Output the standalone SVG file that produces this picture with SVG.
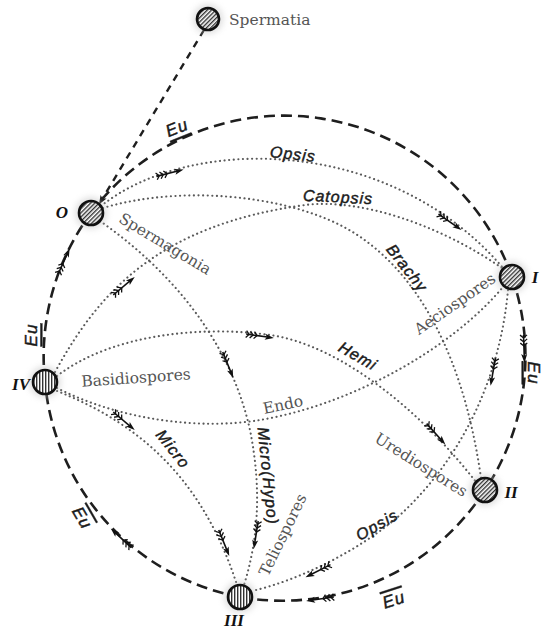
<svg xmlns="http://www.w3.org/2000/svg" xmlns:xlink="http://www.w3.org/1999/xlink" width="545" height="631" viewBox="0 0 545 631">
<defs>
<style>
.dash{fill:none;stroke:#1e1e1e;stroke-width:2.6;stroke-dasharray:11 6}
.sdash{fill:none;stroke:#1e1e1e;stroke-width:2.4;stroke-dasharray:7 6}
.dot{fill:none;stroke:#5a5a5a;stroke-width:2.1;stroke-dasharray:0.1 4.5;stroke-linecap:round}
.nd{stroke:#111;stroke-width:2.6}
.halo{fill:#bbb;opacity:0.45}
.ser{font-family:"DejaVu Serif",serif;font-size:15.5px;fill:#555}
.it{font-family:"Liberation Sans",sans-serif;font-style:italic;font-size:16px;fill:#1a1a1a;stroke:#1a1a1a;stroke-width:0.45;letter-spacing:1px}
.eu{font-size:17px}
.num{font-family:"Liberation Serif",serif;font-style:italic;font-weight:bold;font-size:17px;fill:#111}
</style>
<pattern id="hd" patternUnits="userSpaceOnUse" width="3" height="3" patternTransform="rotate(45)"><rect width="3" height="3" fill="#fff"/><line x1="0.7" y1="0" x2="0.7" y2="3" stroke="#333" stroke-width="1.4"/></pattern>
<pattern id="hv" patternUnits="userSpaceOnUse" width="3" height="3"><rect width="3" height="3" fill="#fff"/><line x1="0.7" y1="0" x2="0.7" y2="3" stroke="#333" stroke-width="1.4"/></pattern>
<filter id="blur" x="-50%" y="-50%" width="200%" height="200%"><feGaussianBlur stdDeviation="3"/></filter>
<g id="fa">
<line x1="-14" y1="0" x2="9" y2="0" stroke="#111" stroke-width="1.6"/>
<path d="M14,0 L5,-3 L7,0 L5,3 Z" fill="#111"/>
<path d="M-14,-3.5 L-11,0 L-14,3.5 M-10,-3.5 L-7,0 L-10,3.5 M-6,-3.5 L-3,0 L-6,3.5" stroke="#111" stroke-width="1.3" fill="none"/>
</g>
<path id="ah" d="M4,0 L-5,-3.5 L-3,0 L-5,3.5 Z" fill="#111"/>
</defs>
<rect width="545" height="631" fill="#fff"/>

<g id="connectors">
<path class="dash" d="M91,213 A241,241 0 0 1 512,277"/>
<path class="dash" d="M512,277 A241,241 0 0 1 485,490"/>
<path class="dash" d="M485,490 A241,241 0 0 1 240,597"/>
<path class="dash" d="M240,597 A241,241 0 0 1 45,382"/>
<path class="dash" d="M45,382 A241,241 0 0 1 91,213"/>
<path class="sdash" d="M204,30 L101,201"/>
<use xlink:href="#ah" transform="translate(101,201) rotate(121)"/>
<path class="dot" d="M101,206 C190,135 390,135 503,268"/>
<path class="dot" d="M103,208 C180,185 280,195 340,225 C400,255 460,330 481,478"/>
<path class="dot" d="M55,372 C100,290 160,225 305,205 C360,198 440,225 502,268"/>
<path class="dot" d="M100,221 C170,270 230,340 250,430 C262,490 258,540 244,585"/>
<path class="dot" d="M57,376 C110,335 200,325 270,335 C340,345 420,410 476,482"/>
<path class="dot" d="M57,388 C120,420 200,430 260,420 C350,405 450,350 503,287"/>
<path class="dot" d="M57,391 C130,420 200,470 237,585"/>
<path class="dot" d="M508,290 C500,380 460,460 400,515 C360,550 300,580 252,591"/>
<use xlink:href="#fa" transform="translate(170,173) rotate(-14)"/>
<use xlink:href="#fa" transform="translate(450,222) rotate(35)"/>
<use xlink:href="#fa" transform="translate(124,286) rotate(-40)"/>
<use xlink:href="#fa" transform="translate(228,365) rotate(68)"/>
<use xlink:href="#fa" transform="translate(260,336) rotate(8)"/>
<use xlink:href="#fa" transform="translate(436,434) rotate(48)"/>
<use xlink:href="#fa" transform="translate(493,372) rotate(100)"/>
<use xlink:href="#fa" transform="translate(524,349) rotate(88)"/>
<use xlink:href="#fa" transform="translate(320,599) rotate(172)"/>
<use xlink:href="#fa" transform="translate(318,571) rotate(153)"/>
<use xlink:href="#fa" transform="translate(224,543) rotate(68)"/>
<use xlink:href="#fa" transform="translate(256,535) rotate(99)"/>
<use xlink:href="#fa" transform="translate(124,421) rotate(40)"/>
<use xlink:href="#fa" transform="translate(121,538) rotate(-137)"/>
<use xlink:href="#fa" transform="translate(64,261) rotate(-66)"/>
</g>

<g id="node-spermatia">
<circle class="halo" cx="208" cy="19" r="15" filter="url(#blur)"/>
<circle class="nd" cx="208" cy="19" r="11" fill="url(#hd)"/>
<text class="ser" x="229" y="25">Spermatia</text>
</g>
<g id="node-O">
<circle class="halo" cx="91" cy="213" r="16" filter="url(#blur)"/>
<circle class="nd" cx="91" cy="213" r="12" fill="url(#hd)"/>
<text class="num" x="62" y="218" text-anchor="middle">O</text>
<text class="ser" transform="translate(165,244) rotate(31)" text-anchor="middle" dominant-baseline="central">Spermagonia</text>
</g>
<g id="node-I">
<circle class="halo" cx="512" cy="277" r="16" filter="url(#blur)"/>
<circle class="nd" cx="512" cy="277" r="12" fill="url(#hd)"/>
<text class="num" x="535" y="283" text-anchor="middle">I</text>
<text class="ser" transform="translate(455,304) rotate(-35)" text-anchor="middle" dominant-baseline="central">Aeciospores</text>
</g>
<g id="node-II">
<circle class="halo" cx="485" cy="490" r="16" filter="url(#blur)"/>
<circle class="nd" cx="485" cy="490" r="12" fill="url(#hd)"/>
<text class="num" x="511" y="498" text-anchor="middle">II</text>
<text class="ser" transform="translate(421,465) rotate(32)" text-anchor="middle" dominant-baseline="central">Urediospores</text>
</g>
<g id="node-III">
<circle class="halo" cx="240" cy="597" r="16" filter="url(#blur)"/>
<circle class="nd" cx="240" cy="597" r="12" fill="url(#hv)"/>
<text class="num" x="234" y="626" text-anchor="middle">III</text>
<text class="ser" transform="translate(283,535) rotate(-64)" text-anchor="middle" dominant-baseline="central">Teliospores</text>
</g>
<g id="node-IV">
<circle class="halo" cx="45" cy="382" r="16" filter="url(#blur)"/>
<circle class="nd" cx="45" cy="382" r="12" fill="url(#hv)"/>
<text class="num" x="21" y="390" text-anchor="middle">IV</text>
<text class="ser" transform="translate(136,378) rotate(-4)" text-anchor="middle" dominant-baseline="central">Basidiospores</text>
</g>

<g id="labels">
<text class="it eu" transform="translate(177,128) rotate(-22)" text-anchor="middle" dominant-baseline="central" text-decoration="underline">Eu</text>
<text class="it eu" transform="translate(31,335) rotate(-90)" text-anchor="middle" dominant-baseline="central" text-decoration="underline">Eu</text>
<text class="it eu" transform="translate(533,373) rotate(90)" text-anchor="middle" dominant-baseline="central" text-decoration="underline">Eu</text>
<text class="it eu" transform="translate(394,600) rotate(-18)" text-anchor="middle" dominant-baseline="central" text-decoration="overline">Eu</text>
<text class="it eu" transform="translate(82,518) rotate(60)" text-anchor="middle" dominant-baseline="central" text-decoration="overline">Eu</text>
<text class="it" transform="translate(293,154) rotate(6)" text-anchor="middle" dominant-baseline="central">Opsis</text>
<text class="it" transform="translate(338,197) rotate(3)" text-anchor="middle" dominant-baseline="central">Catopsis</text>
<text class="it" transform="translate(407,268) rotate(52)" text-anchor="middle" dominant-baseline="central">Brachy</text>
<text class="it" transform="translate(358,356) rotate(30)" text-anchor="middle" dominant-baseline="central">Hemi</text>
<text class="ser" transform="translate(283,405) rotate(-12)" text-anchor="middle" dominant-baseline="central">Endo</text>
<text class="it" transform="translate(173,449) rotate(52)" text-anchor="middle" dominant-baseline="central">Micro</text>
<text class="it" transform="translate(268,476) rotate(84)" text-anchor="middle" dominant-baseline="central">Micro(Hypo)</text>
<text class="it" transform="translate(377,525) rotate(-30)" text-anchor="middle" dominant-baseline="central">Opsis</text>
</g>
</svg>
